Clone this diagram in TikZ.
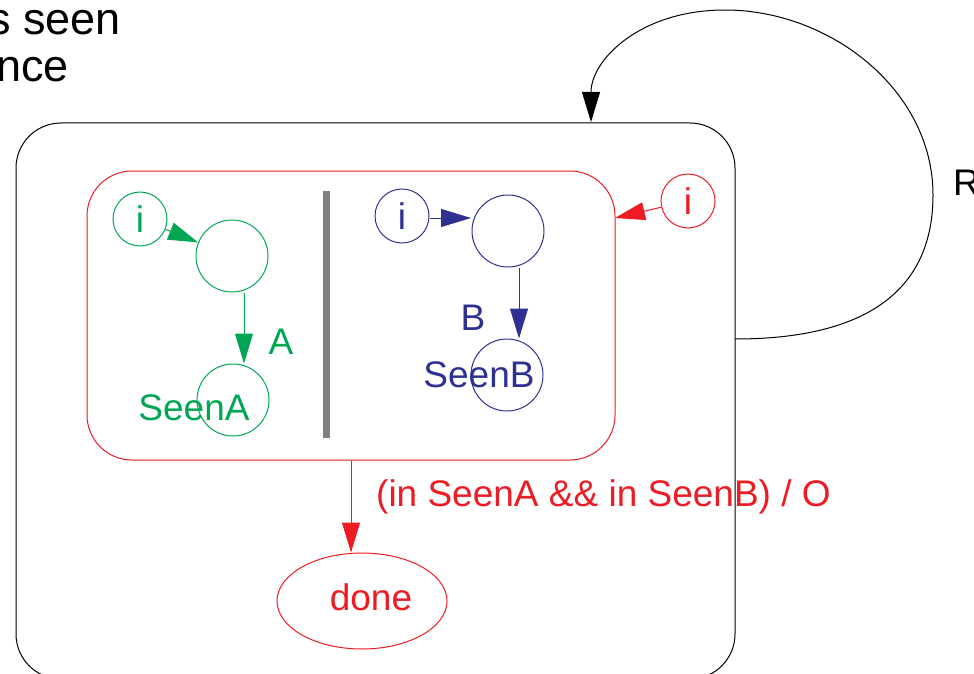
\documentclass[tikz,border=0pt]{standalone}
\usepackage{fontspec}
\setmainfont{Liberation Sans}
\usetikzlibrary{arrows.meta,shapes.geometric,calc}
\definecolor{sgreen}{RGB}{0,166,81}
\definecolor{sblue}{RGB}{46,49,146}
\definecolor{sred}{RGB}{237,28,36}
\definecolor{sgray}{RGB}{128,128,128}
\tikzset{
  lbl/.style={font=\fontsize{37}{44}\selectfont, inner sep=0pt},
  big/.style={font=\fontsize{45}{54}\selectfont, inner sep=0pt},
  smallstate/.style={draw, circle, minimum size=54pt, inner sep=0pt, line width=1pt, font=\fontsize{37}{44}\selectfont},
  bigstate/.style={draw, circle, minimum size=72pt, inner sep=0pt, line width=1pt},
  arr/.style={line width=1pt, -{Triangle[length=30pt,width=18pt]}},
}
\begin{document}
\begin{tikzpicture}[x=1pt,y=-1pt]
\useasboundingbox (0,0) rectangle (974,674);
% top text
\node[big, anchor=base east] (t1) at (121,35) {s seen};
\node[big, anchor=base east] (t2) at (69,82) {nce};
% outer box
\node[draw, line width=1pt, rounded corners=45pt, minimum width=719pt, minimum height=556pt, inner sep=0pt] (outer) at (375.5,401) {};
% red box
\node[draw=sred, line width=1pt, rounded corners=45pt, minimum width=528pt, minimum height=289pt, inner sep=0pt] (rbox) at (351,315.5) {};
% gray bar
\draw[sgray, line width=7pt] (326,191) -- (326,438);
% green
\node[smallstate, draw=sgreen, text=sgreen] (gi) at (140,219) {i};
\node[bigstate, draw=sgreen] (gc) at (232,256) {};
\node[bigstate, draw=sgreen] (ga) at (233,400) {};
\node[lbl, text=sgreen] (gal) at (194,408) {SeenA};
\node[lbl, text=sgreen] (gA) at (281,342) {A};
\draw[arr, sgreen] (gi) -- (gc);
\draw[arr, sgreen] ($(gc.south)+(12,0)$) -- ($(ga.north)+(11,0)$);
% blue
\node[smallstate, draw=sblue, text=sblue] (bi) at (402,216) {i};
\node[bigstate, draw=sblue] (bc) at (508,231) {};
\node[bigstate, draw=sblue] (bs) at (507,375) {};
\node[lbl, text=sblue] (bsl) at (479,375) {SeenB};
\node[lbl, text=sblue] (bB) at (473,318) {B};
\coordinate (bt) at (471,218);
\draw[arr, sblue] (bi.east |- bt) -- (bt);
\draw[arr, sblue] ($(bc.south)+(11,0)$) -- ($(bs.north)+(12,0)$);
% red
\node[smallstate, draw=sred, text=sred] (ri) at (688,201) {i};
\coordinate (rt) at (615,218);
\draw[arr, sred] (ri) -- (rt);
\node[draw=sred, line width=1pt, ellipse, minimum width=170pt, minimum height=96pt, inner sep=0pt] (done) at (362,601) {};
\node[lbl, text=sred] (donel) at (371,597) {done};
\draw[arr, sred] (rbox.south -| 351,0) -- (done.north -| 351,0);
\node[lbl, text=sred, anchor=west] (cond) at (376,497) {(in SeenA \&\& in SeenB) / O};
% loop
\coordinate (ls) at (735,339);
\coordinate (le) at (591,122);
\draw[arr] (ls) .. controls (880,339) and (933,280) .. (933,195)
  .. controls (933,90) and (830,10) .. (725,10)
  .. controls (640,10) and (591,60) .. (le);
\node[lbl, anchor=west] (R) at (953,183) {R};
\end{tikzpicture}
\end{document}
